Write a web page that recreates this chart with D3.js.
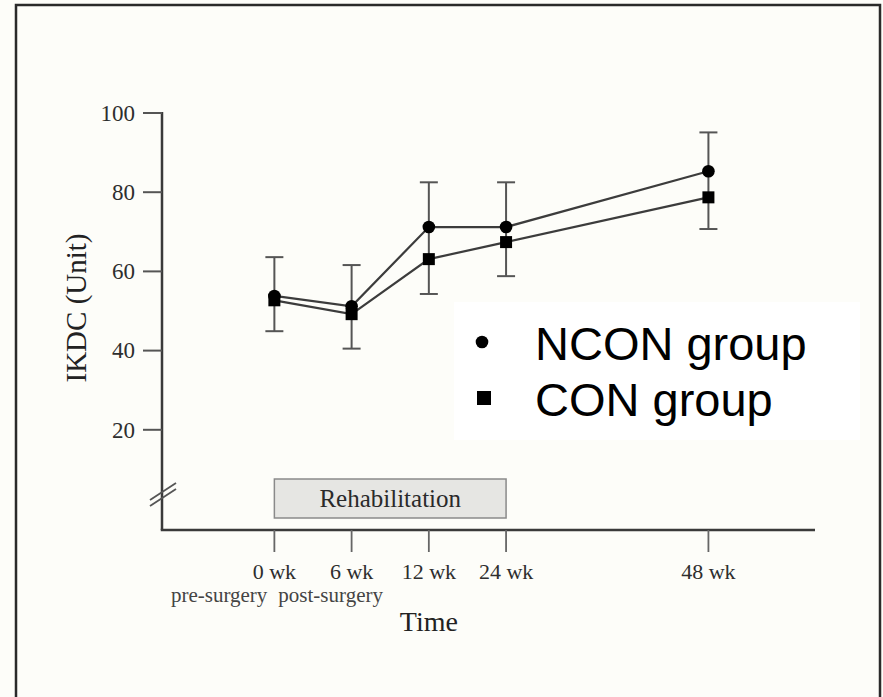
<!DOCTYPE html>
<html>
<head>
<meta charset="utf-8">
<script src="https://cdn.jsdelivr.net/npm/d3@7"></script>
<style>
  html, body { margin: 0; padding: 0; background: #fdfdf9; }
  svg { display: block; }
</style>
</head>
<body>
<div id="chart"></div>
<script>
// time points on the x axis (slot = position along the axis in "steps")
var timeLabels = ['0 wk', '6 wk', '12 wk', '24 wk', '48 wk'];
var timeSlots = [0, 1, 2, 3, 5.62];
var subLabels = ['pre-surgery', 'post-surgery'];

// IKDC scores, mean and SD
var nconMean = [53.8, 51.2, 71.2, 71.2, 85.3];
var nconSD = [9.8, 10.4, 11.3, 11.3, 9.8];
var conMean = [52.7, 49.2, 63.1, 67.4, 78.7];
var conSD = [7.8, 8.7, 8.8, 8.6, 8.0];

var yTicks = [20, 40, 60, 80, 100];
var legendItems = [
  { label: 'NCON group', shape: 'circle' },
  { label: 'CON group', shape: 'square' }
];

var W = 883, H = 697;
var serif = "'Liberation Serif', 'Times New Roman', serif";
var sans = "'Liberation Sans', Arial, sans-serif";

var svg = d3.select('#chart').append('svg')
  .attr('width', W).attr('height', H);

// outer frame
svg.append('rect')
  .attr('x', 16).attr('y', 5)
  .attr('width', 864).attr('height', H + 20)
  .attr('fill', '#fdfdf9')
  .attr('stroke', '#2a2a2a').attr('stroke-width', 2.5);

var axisX0 = 162, axisX1 = 815, axisY = 530;

var x = d3.scaleLinear().domain([-1.455, 7]).range([axisX0, axisX1]);
var y = d3.scaleLinear().domain([0, 100]).range([509, 113]);

// legend background
svg.append('rect')
  .attr('x', 454).attr('y', 302).attr('width', 406).attr('height', 138)
  .attr('fill', '#ffffff');

// rehabilitation bar (0 wk to 24 wk)
svg.append('rect')
  .attr('x', x(timeSlots[0])).attr('y', axisY - 51)
  .attr('width', x(timeSlots[3]) - x(timeSlots[0])).attr('height', 39)
  .attr('fill', '#e6e6e3').attr('stroke', '#8a8a8a').attr('stroke-width', 1.5);
svg.append('text')
  .attr('x', (x(timeSlots[0]) + x(timeSlots[3])) / 2).attr('y', axisY - 23)
  .attr('text-anchor', 'middle')
  .attr('font-family', serif).attr('font-size', 25).attr('fill', '#2a2a2a')
  .text('Rehabilitation');

// y axis
var axisColor = '#3a3a3a';
svg.append('line')
  .attr('x1', axisX0).attr('x2', axisX0)
  .attr('y1', y(100) - 1).attr('y2', axisY)
  .attr('stroke', axisColor).attr('stroke-width', 2.5);

var yt = svg.append('g').selectAll('g').data(yTicks).enter().append('g')
  .attr('transform', function(d) { return 'translate(0,' + y(d) + ')'; });
yt.append('line')
  .attr('x1', axisX0 - 19).attr('x2', axisX0)
  .attr('stroke', '#555').attr('stroke-width', 2);
yt.append('text')
  .attr('x', axisX0 - 27).attr('dy', '0.34em')
  .attr('text-anchor', 'end')
  .attr('font-family', serif).attr('font-size', 23).attr('fill', '#2e2e2e')
  .text(function(d) { return d; });

// axis break marks
[0, 6].forEach(function(off) {
  svg.append('line')
    .attr('x1', axisX0 - 12).attr('y1', 500 + off)
    .attr('x2', axisX0 + 14).attr('y2', 483 + off)
    .attr('stroke', '#555').attr('stroke-width', 1.8);
});

// x axis
svg.append('line')
  .attr('x1', axisX0 - 1.25).attr('x2', axisX1)
  .attr('y1', axisY).attr('y2', axisY)
  .attr('stroke', axisColor).attr('stroke-width', 2.5);

var xt = svg.append('g').selectAll('g').data(timeLabels).enter().append('g')
  .attr('transform', function(d, i) { return 'translate(' + x(timeSlots[i]) + ',0)'; });
xt.append('line')
  .attr('y1', axisY).attr('y2', axisY + 22)
  .attr('stroke', '#666').attr('stroke-width', 1.8);
xt.append('text')
  .attr('y', axisY + 49)
  .attr('text-anchor', 'middle')
  .attr('font-family', serif).attr('font-size', 22).attr('fill', '#2e2e2e')
  .text(function(d) { return d; });

svg.append('text')
  .attr('x', x(timeSlots[0]) - 7).attr('y', axisY + 72)
  .attr('text-anchor', 'end')
  .attr('font-family', serif).attr('font-size', 21).attr('fill', '#444')
  .text(subLabels[0]);
svg.append('text')
  .attr('x', x(timeSlots[0]) + 4).attr('y', axisY + 72)
  .attr('text-anchor', 'start')
  .attr('font-family', serif).attr('font-size', 21).attr('fill', '#444')
  .text(subLabels[1]);

// axis titles
svg.append('text')
  .attr('x', x(timeSlots[2])).attr('y', axisY + 101)
  .attr('text-anchor', 'middle')
  .attr('font-family', serif).attr('font-size', 28).attr('fill', '#222')
  .text('Time');
svg.append('text')
  .attr('transform', 'translate(86,' + 308 + ') rotate(-90)')
  .attr('text-anchor', 'middle')
  .attr('font-family', serif).attr('font-size', 29).attr('fill', '#222')
  .text('IKDC (Unit)');

// error bars: NCON upward, CON downward
var capW = 9;
var errG = svg.append('g');
timeLabels.forEach(function(t, i) {
  var cx = x(timeSlots[i]);
  var top = y(nconMean[i] + nconSD[i]);
  var bot = y(conMean[i] - conSD[i]);
  errG.append('line').attr('x1', cx).attr('x2', cx).attr('y1', top).attr('y2', bot)
    .attr('stroke', '#555').attr('stroke-width', 2);
  [top, bot].forEach(function(v) {
    errG.append('line').attr('x1', cx - capW).attr('x2', cx + capW).attr('y1', v).attr('y2', v)
      .attr('stroke', '#555').attr('stroke-width', 2);
  });
});

// lines
var line = d3.line()
  .x(function(d, i) { return x(timeSlots[i]); })
  .y(function(d) { return y(d); });
[nconMean, conMean].forEach(function(s) {
  svg.append('path').datum(s)
    .attr('d', line)
    .attr('fill', 'none').attr('stroke', '#3c3c3c').attr('stroke-width', 2.2);
});

// markers
svg.append('g').selectAll('rect').data(conMean).enter().append('rect')
  .attr('x', function(d, i) { return x(timeSlots[i]) - 6; })
  .attr('y', function(d) { return y(d) - 6; })
  .attr('width', 12).attr('height', 12)
  .attr('fill', '#000');
svg.append('g').selectAll('circle').data(nconMean).enter().append('circle')
  .attr('cx', function(d, i) { return x(timeSlots[i]); })
  .attr('cy', function(d) { return y(d); })
  .attr('r', 6.3)
  .attr('fill', '#000');

// legend
var lg = svg.append('g').selectAll('g').data(legendItems).enter().append('g')
  .attr('transform', function(d, i) { return 'translate(0,' + (i * 56) + ')'; });
lg.filter(function(d) { return d.shape === 'circle'; }).append('circle')
  .attr('cx', 482).attr('cy', 342).attr('r', 6.3).attr('fill', '#000');
lg.filter(function(d) { return d.shape === 'square'; }).append('rect')
  .attr('x', 477).attr('y', 335).attr('width', 14).attr('height', 14).attr('fill', '#000');
lg.append('text')
  .attr('x', 535).attr('y', 360)
  .attr('font-family', sans).attr('font-size', 47).attr('fill', '#000')
  .text(function(d) { return d.label; });
</script>
</body>
</html>
